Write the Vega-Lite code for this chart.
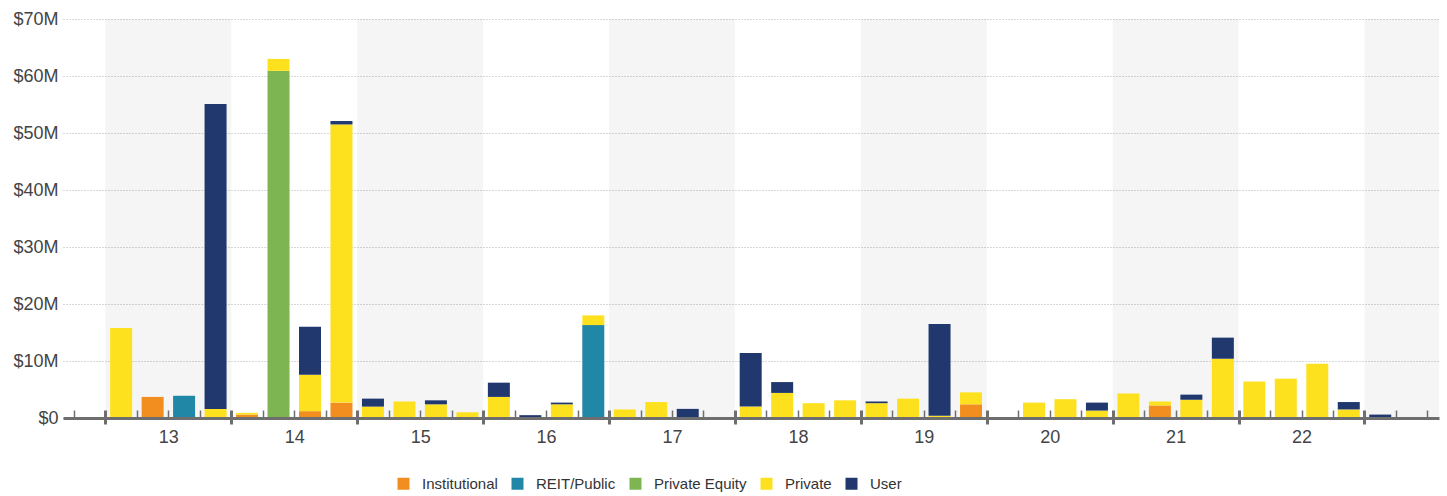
{
  "$schema": "https://vega.github.io/schema/vega-lite/v6.json",
  "width": 1376,
  "height": 399,
  "autosize": {"type": "none"},
  "padding": {"left": 63, "top": 19, "right": 8, "bottom": 78},
  "background": "#ffffff",
  "datasets": {
    "bands": [
      {"s": 13, "e": 14},
      {"s": 15, "e": 16},
      {"s": 17, "e": 18},
      {"s": 19, "e": 20},
      {"s": 21, "e": 22},
      {"s": 23, "e": 24}
    ],
    "typeOrder": [
      {"type": "Institutional", "rank": 1},
      {"type": "REIT/Public", "rank": 2},
      {"type": "Private Equity", "rank": 3},
      {"type": "Private", "rank": 4},
      {"type": "User", "rank": 5}
    ],
    "deals": [
      {"t": 13.125, "type": "Private", "v": 15.8},
      {"t": 13.375, "type": "Institutional", "v": 3.7},
      {"t": 13.625, "type": "REIT/Public", "v": 3.9},
      {"t": 13.875, "type": "Private", "v": 1.6},
      {"t": 13.875, "type": "User", "v": 53.5},
      {"t": 14.125, "type": "Institutional", "v": 0.6},
      {"t": 14.125, "type": "Private", "v": 0.3},
      {"t": 14.375, "type": "Private Equity", "v": 60.9},
      {"t": 14.375, "type": "Private", "v": 2.1},
      {"t": 14.625, "type": "Institutional", "v": 1.2},
      {"t": 14.625, "type": "Private", "v": 6.4},
      {"t": 14.625, "type": "User", "v": 8.4},
      {"t": 14.875, "type": "Institutional", "v": 2.7},
      {"t": 14.875, "type": "Private", "v": 48.8},
      {"t": 14.875, "type": "User", "v": 0.6},
      {"t": 15.125, "type": "Private", "v": 2.0},
      {"t": 15.125, "type": "User", "v": 1.4},
      {"t": 15.375, "type": "Private", "v": 2.9},
      {"t": 15.625, "type": "Private", "v": 2.4},
      {"t": 15.625, "type": "User", "v": 0.7},
      {"t": 15.875, "type": "Private", "v": 1.0},
      {"t": 16.125, "type": "Private", "v": 3.7},
      {"t": 16.125, "type": "User", "v": 2.5},
      {"t": 16.375, "type": "User", "v": 0.5},
      {"t": 16.625, "type": "Private", "v": 2.4},
      {"t": 16.625, "type": "User", "v": 0.3},
      {"t": 16.875, "type": "REIT/Public", "v": 16.3},
      {"t": 16.875, "type": "Private", "v": 1.7},
      {"t": 17.125, "type": "Private", "v": 1.5},
      {"t": 17.375, "type": "Private", "v": 2.8},
      {"t": 17.625, "type": "User", "v": 1.6},
      {"t": 18.125, "type": "Private", "v": 2.0},
      {"t": 18.125, "type": "User", "v": 9.4},
      {"t": 18.375, "type": "Private", "v": 4.4},
      {"t": 18.375, "type": "User", "v": 1.9},
      {"t": 18.625, "type": "Private", "v": 2.6},
      {"t": 18.875, "type": "Private", "v": 3.1},
      {"t": 19.125, "type": "Private", "v": 2.6},
      {"t": 19.125, "type": "User", "v": 0.3},
      {"t": 19.375, "type": "Private", "v": 3.4},
      {"t": 19.625, "type": "Private", "v": 0.4},
      {"t": 19.625, "type": "User", "v": 16.1},
      {"t": 19.875, "type": "Institutional", "v": 2.4},
      {"t": 19.875, "type": "Private", "v": 2.1},
      {"t": 20.375, "type": "Private", "v": 2.7},
      {"t": 20.625, "type": "Private", "v": 3.3},
      {"t": 20.875, "type": "Private", "v": 1.3},
      {"t": 20.875, "type": "User", "v": 1.4},
      {"t": 21.125, "type": "Private", "v": 4.3},
      {"t": 21.375, "type": "Institutional", "v": 2.2},
      {"t": 21.375, "type": "Private", "v": 0.7},
      {"t": 21.625, "type": "Private", "v": 3.2},
      {"t": 21.625, "type": "User", "v": 0.9},
      {"t": 21.875, "type": "Private", "v": 10.4},
      {"t": 21.875, "type": "User", "v": 3.7},
      {"t": 22.125, "type": "Private", "v": 6.4},
      {"t": 22.375, "type": "Private", "v": 6.9},
      {"t": 22.625, "type": "Private", "v": 9.5},
      {"t": 22.875, "type": "Private", "v": 1.5},
      {"t": 22.875, "type": "User", "v": 1.3},
      {"t": 23.125, "type": "User", "v": 0.6}
    ]
  },
  "layer": [
    {
      "data": {"name": "bands"},
      "mark": {"type": "rect", "fill": "#000000", "fillOpacity": 0.04, "clip": true},
      "encoding": {
        "x": {
          "field": "s",
          "type": "quantitative",
          "scale": {"domain": [12.703, 23.552], "nice": false, "zero": false},
          "axis": {
            "orient": "bottom",
            "values": [12.75, 13, 13.25, 13.5, 13.75, 14, 14.25, 14.5, 14.75, 15, 15.25, 15.5, 15.75, 16, 16.25, 16.5, 16.75, 17, 17.25, 17.5, 17.75, 18, 18.25, 18.5, 18.75, 19, 19.25, 19.5, 19.75, 20, 20.25, 20.5, 20.75, 21, 21.25, 21.5, 21.75, 22, 22.25, 22.5, 22.75, 23, 23.25, 23.5],
            "labels": false,
            "domain": false,
            "grid": false,
            "ticks": true,
            "offset": -8,
            "tickColor": "#6e6e6e",
            "tickSize": {"condition": {"test": "datum.value % 1 == 0", "value": 14}, "value": 7},
            "tickWidth": {"condition": {"test": "datum.value % 1 == 0", "value": 3}, "value": 1.5},
            "title": null,
            "zindex": 1
          }
        },
        "x2": {"field": "e"}
      }
    },
    {
      "data": {"name": "deals"},
      "transform": [
        {"lookup": "type", "from": {"data": {"name": "typeOrder"}, "key": "type", "fields": ["rank"]}}
      ],
      "mark": {"type": "bar", "size": 22},
      "encoding": {
        "x": {
          "field": "t",
          "type": "quantitative",
          "scale": {"domain": [12.703, 23.552], "nice": false, "zero": false},
          "axis": {
            "orient": "bottom",
            "values": [13.5, 14.5, 15.5, 16.5, 17.5, 18.5, 19.5, 20.5, 21.5, 22.5],
            "labelExpr": "'' + floor(datum.value)",
            "ticks": false,
            "tickSize": 0,
            "domainColor": "#6e6e6e",
            "domainWidth": 3,
            "labelFontSize": 18,
            "labelColor": "#444444",
            "labelPadding": 10,
            "grid": false,
            "title": null,
            "zindex": 1
          }
        },
        "y": {
          "aggregate": "sum",
          "field": "v",
          "type": "quantitative",
          "stack": "zero",
          "scale": {"domain": [0, 70], "nice": false},
          "axis": {
            "values": [0, 10, 20, 30, 40, 50, 60, 70],
            "labelExpr": "datum.value == 0 ? '$0' : '$' + datum.value + 'M'",
            "domain": false,
            "ticks": false,
            "gridDash": [1, 2],
            "gridColor": "#b0b0b0",
            "labelFontSize": 18,
            "labelColor": "#444444",
            "labelPadding": 5,
            "title": null
          }
        },
        "order": {"field": "rank", "type": "quantitative", "sort": "ascending"},
        "color": {
          "field": "type",
          "type": "nominal",
          "scale": {
            "domain": ["Institutional", "REIT/Public", "Private Equity", "Private", "User"],
            "range": ["#F28E1F", "#2187A6", "#7CB552", "#FDE11E", "#20386E"]
          },
          "legend": {
            "orient": "none",
            "legendX": 333,
            "legendY": 457,
            "direction": "horizontal",
            "title": null,
            "symbolType": "square",
            "symbolSize": 144,
            "symbolStrokeWidth": 0,
            "labelFontSize": 15,
            "labelFont": "Liberation Sans",
            "labelColor": "#333333",
            "labelOffset": 11,
            "columnPadding": 12
          }
        }
      }
    }
  ],
  "resolve": {"axis": {"x": "independent"}},
  "config": {
    "view": {"stroke": null},
    "font": "Liberation Sans",
    "axis": {"labelFont": "Liberation Sans"}
  }
}
